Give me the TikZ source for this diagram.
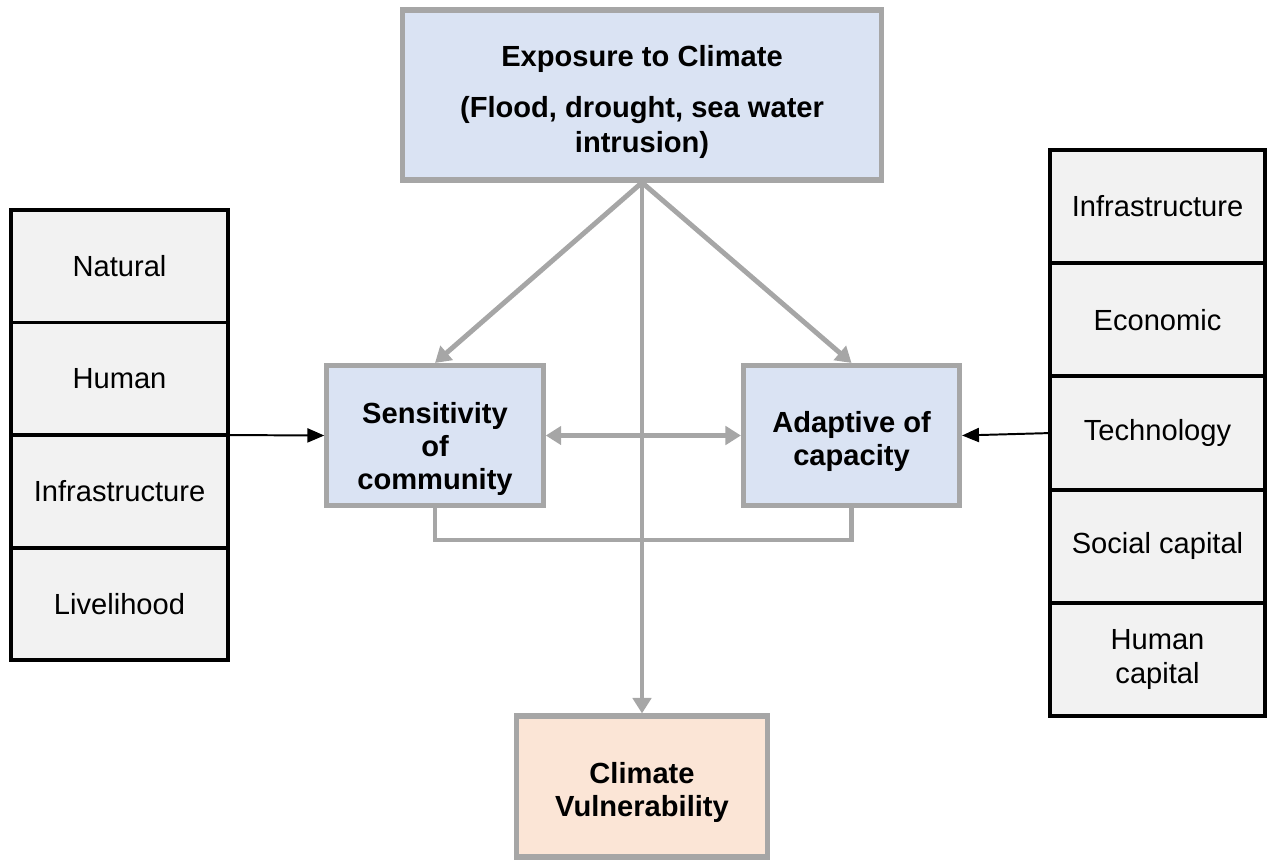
\documentclass[tikz,border=0pt]{standalone}
\usepackage{fontspec}
\setmainfont{Liberation Sans}
\usepackage{xcolor}
\usepackage{tikz}
\usetikzlibrary{positioning,arrows.meta}

\definecolor{boxgray}{HTML}{A6A6A6}
\definecolor{boxblue}{HTML}{DAE3F3}
\definecolor{cellgray}{HTML}{F2F2F2}
\definecolor{boxpeach}{HTML}{FBE5D6}

% pushes the text of a box down a little
\newcommand{\toppad}[1]{\rule{0pt}{#1}}

\tikzset{
  mainbox/.style={draw=boxgray, line width=3.6pt, fill=boxblue, align=center,
    font=\fontsize{20.7}{23.5}\selectfont\bfseries},
  cell/.style={draw=black, line width=2.8pt, fill=cellgray, align=center, outer sep=0pt,
    font=\fontsize{20.7}{23.5}\selectfont},
  leftcell/.style={cell, minimum width=5.425cm, minimum height=2.8125cm},
  rightcell/.style={cell, minimum width=5.375cm, minimum height=2.83cm},
  grayline/.style={boxgray, line width=3.5pt},
  graytip/.tip={Triangle[length=11pt,width=13pt]},
  grayarrow/.style={grayline, -graytip},
  blackarrow/.style={black, line width=1.4pt, -{Triangle[length=12pt,width=10pt]}}
}

\begin{document}
\begin{tikzpicture}[x=0.025cm, y=-0.025cm]
				\useasboundingbox (0,0) rectangle (1267,860);
				
				% main boxes
				\node [mainbox, minimum width=11.95cm, minimum height=4.25cm] (expo) at (642,95) {\toppad{24.5pt}Exposure to Climate\\[13pt] (Flood, drought, sea water\\[1pt] intrusion)};
				\node [mainbox, minimum width=5.41cm, minimum height=3.5cm] (sens) at (435,435.5) {\toppad{34.5pt}Sensitivity\\ of\\ community};
				\node [mainbox, minimum width=5.4cm, minimum height=3.5cm] (adapt) at (851.5,435.5) {\toppad{23pt}Adaptive of\\ capacity};
				\node [mainbox, fill=boxpeach, minimum width=6.29cm, minimum height=3.525cm] (vuln) at (642,786.5) {\toppad{23pt}Climate\\ Vulnerability};
				
				% left stack
				\node [leftcell] (natural) at (119.5,266.25) {Natural};
				\node [leftcell, below=0pt of natural] (human) {Human};
				\node [leftcell, below=0pt of human] (linfra) {Infrastructure};
				\node [leftcell, below=0pt of linfra] (livelihood) {Livelihood};
				
				% right stack
				\node [rightcell] (rinfra) at (1157.5,206.6) {Infrastructure};
				\node [rightcell, below=0pt of rinfra] (economic) {Economic};
				\node [rightcell, below=0pt of economic] (technology) {Technology};
				\node [rightcell, below=0pt of technology] (social) {Social capital};
				\node [rightcell, below=0pt of social] (humancap) {Human\\ capital};
				
				% connectors
				\draw [grayarrow] (expo.south) -- (sens.north);
				\draw [grayarrow] (expo.south) -- (adapt.north);
				\draw [grayarrow] (expo.south) -- (vuln.north);
				\draw [grayline, graytip-graytip] (sens.east) -- (adapt.west);
				
				\coordinate (joint) at (642,540);
				\draw [grayline] (sens.south) |- (joint) -| (adapt.south);
				
				\draw [blackarrow] (human.south east) -- (sens.west);
				\draw [blackarrow] (technology.west) -- (adapt.east);
\end{tikzpicture}
\end{document}
